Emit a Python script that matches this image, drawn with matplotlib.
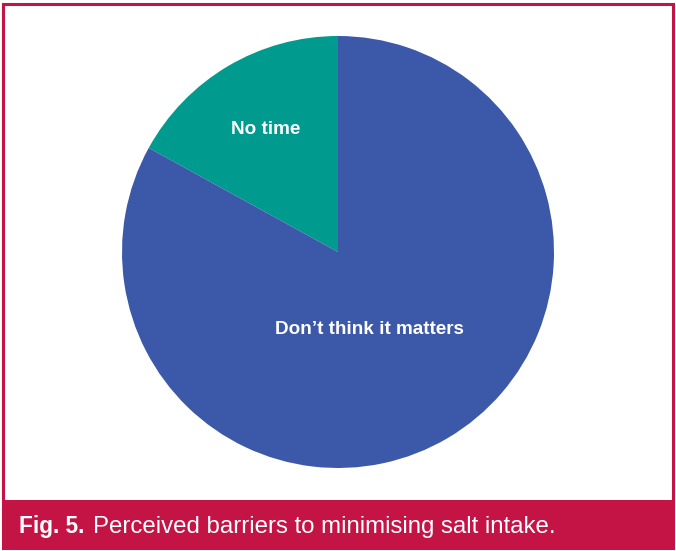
import matplotlib
matplotlib.use("Agg")
import matplotlib.pyplot as plt
from matplotlib.patches import Rectangle

categories = ["No time", "Don\u2019t think it matters"]
values = [17, 83]
colors = ["#009B8E", "#3C58A8"]
caption_bold = "Fig. 5."
caption_text = "Perceived barriers to minimising salt intake."

W, H = 676, 551
fig = plt.figure(figsize=(W / 100, H / 100), dpi=100)
fig.patch.set_facecolor("white")

crimson = "#C41446"
# outer border
fig.add_artist(Rectangle((3 / W, 3 / H), (W - 6) / W, (H - 7) / H, transform=fig.transFigure,
                         fill=False, edgecolor=crimson, linewidth=2.2))
# caption band
fig.add_artist(Rectangle((3 / W, 3 / H), (W - 6) / W, (H - 500 - 3) / H, transform=fig.transFigure,
                         facecolor=crimson, edgecolor=crimson, linewidth=0))

cx, cy, r = 338, 252, 216
ax = fig.add_axes([(cx - r) / W, (H - cy - r) / H, 2 * r / W, 2 * r / H])
wedges, texts = ax.pie(values, colors=colors, startangle=90, counterclock=True,
                       labels=categories, labeldistance=0.66,
                       textprops=dict(color="white", fontsize=13.6, fontweight="bold",
                                      family="Liberation Sans", ha="center", va="center"),
                       wedgeprops=dict(linewidth=0))
texts[1].set_position((0.144, -0.361))
ax.set_xlim(-1, 1)
ax.set_ylim(-1, 1)
ax.set_aspect("equal")
ax.axis("off")

t1 = fig.text(19 / W, (H - 533) / H, caption_bold, color="white", fontsize=16.3,
              fontweight="bold", family="Liberation Sans", va="baseline", ha="left")
fig.text(93 / W, (H - 533) / H, caption_text, color="white", fontsize=17.3,
         family="Liberation Sans", va="baseline", ha="left")

fig.savefig("out.png", dpi=100)
